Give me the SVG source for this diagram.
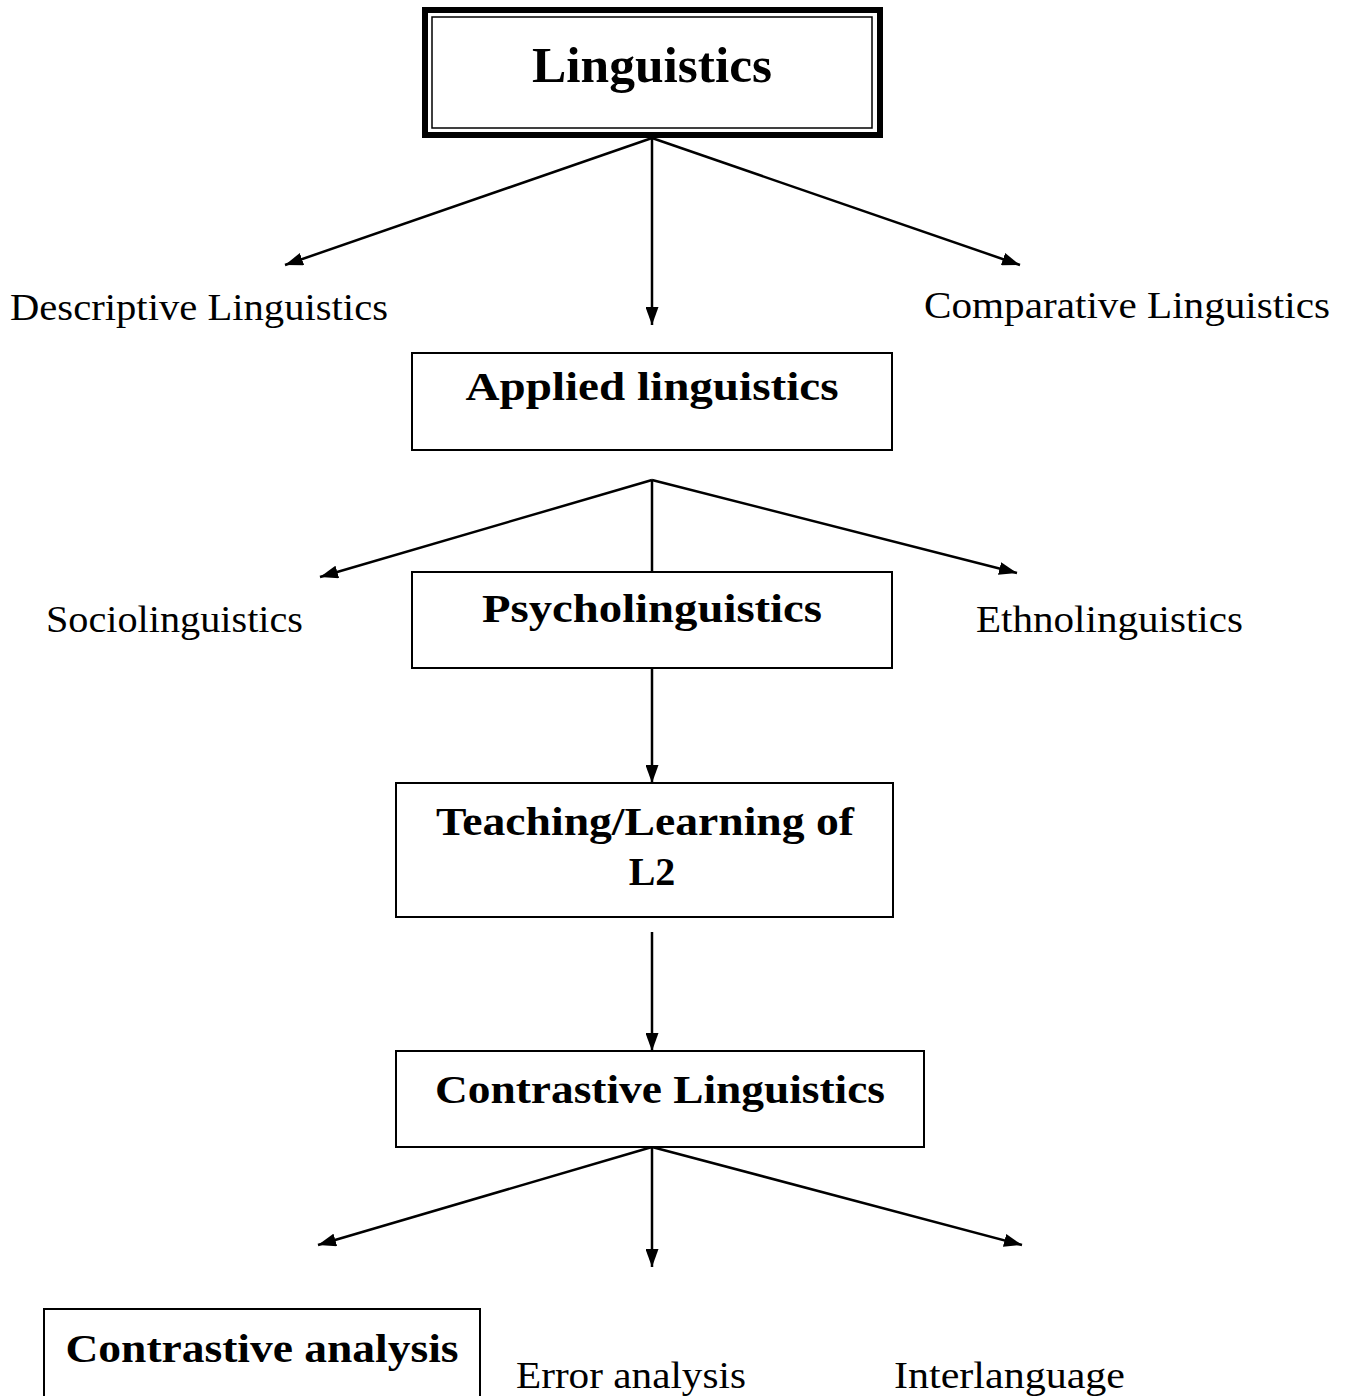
<svg xmlns="http://www.w3.org/2000/svg" width="1351" height="1396" viewBox="0 0 1351 1396">
<style>
.box{fill:#fff;stroke:#000;stroke-width:2}
.b{font-family:"Liberation Serif","DejaVu Serif",serif;font-weight:bold;fill:#000;text-anchor:middle}
.t{font-family:"Liberation Serif","DejaVu Serif",serif;fill:#000}
.c{stroke:#000;stroke-width:2.5;fill:none}
</style>
<defs>
<marker id="a" viewBox="0 0 18 13" refX="18" refY="6.5" markerWidth="18" markerHeight="13" markerUnits="userSpaceOnUse" orient="auto">
<path d="M0,0 L18,6.5 L0,13 z" fill="#000"/>
</marker>
</defs>
<rect width="1351" height="1396" fill="#fff"/>
<g id="connectors">
<line class="c" x1="652" y1="138" x2="285" y2="265" marker-end="url(#a)"/>
<line class="c" x1="652" y1="138" x2="652" y2="325" marker-end="url(#a)"/>
<line class="c" x1="652" y1="138" x2="1020" y2="265" marker-end="url(#a)"/>
<line class="c" x1="652" y1="480" x2="320" y2="577" marker-end="url(#a)"/>
<line class="c" x1="652" y1="480" x2="652" y2="572"/>
<line class="c" x1="652" y1="480" x2="1017" y2="573" marker-end="url(#a)"/>
<line class="c" x1="652" y1="668" x2="652" y2="783" marker-end="url(#a)"/>
<line class="c" x1="652" y1="932" x2="652" y2="1051" marker-end="url(#a)"/>
<line class="c" x1="652" y1="1147" x2="318" y2="1245" marker-end="url(#a)"/>
<line class="c" x1="652" y1="1147" x2="652" y2="1267" marker-end="url(#a)"/>
<line class="c" x1="652" y1="1147" x2="1022" y2="1245" marker-end="url(#a)"/>
</g>
<g id="linguistics">
<rect x="425" y="10" width="455" height="125" fill="#fff" stroke="#000" stroke-width="6"/>
<rect x="432" y="17" width="440" height="111" fill="none" stroke="#000" stroke-width="1.5"/>
<text class="b" x="652" y="82" font-size="50" textLength="240" lengthAdjust="spacingAndGlyphs">Linguistics</text>
</g>
<g id="descriptive">
<text class="t" x="10" y="320" font-size="37" textLength="378" lengthAdjust="spacingAndGlyphs">Descriptive Linguistics</text>
</g>
<g id="comparative">
<text class="t" x="924" y="318" font-size="37" textLength="406" lengthAdjust="spacingAndGlyphs">Comparative Linguistics</text>
</g>
<g id="applied">
<rect class="box" x="412" y="353" width="480" height="97"/>
<text class="b" x="652" y="400" font-size="40" textLength="373" lengthAdjust="spacingAndGlyphs">Applied linguistics</text>
</g>
<g id="socio">
<text class="t" x="46" y="632" font-size="37" textLength="257" lengthAdjust="spacingAndGlyphs">Sociolinguistics</text>
</g>
<g id="psycho">
<rect class="box" x="412" y="572" width="480" height="96"/>
<text class="b" x="652" y="622" font-size="40" textLength="340" lengthAdjust="spacingAndGlyphs">Psycholinguistics</text>
</g>
<g id="ethno">
<text class="t" x="976" y="632" font-size="37" textLength="267" lengthAdjust="spacingAndGlyphs">Ethnolinguistics</text>
</g>
<g id="teaching">
<rect class="box" x="396" y="783" width="497" height="134"/>
<text class="b" x="645" y="835" font-size="40" textLength="418" lengthAdjust="spacingAndGlyphs">Teaching/Learning of</text>
<text class="b" x="652" y="885" font-size="40">L2</text>
</g>
<g id="contrastive-ling">
<rect class="box" x="396" y="1051" width="528" height="96"/>
<text class="b" x="660" y="1103" font-size="40" textLength="450" lengthAdjust="spacingAndGlyphs">Contrastive Linguistics</text>
</g>
<g id="contrastive-analysis">
<rect class="box" x="44" y="1309" width="436" height="100"/>
<text class="b" x="262" y="1362" font-size="40" textLength="393" lengthAdjust="spacingAndGlyphs">Contrastive analysis</text>
</g>
<g id="error">
<text class="t" x="516" y="1388" font-size="37" textLength="230" lengthAdjust="spacingAndGlyphs">Error analysis</text>
</g>
<g id="interlanguage">
<text class="t" x="894" y="1388" font-size="37" textLength="231" lengthAdjust="spacingAndGlyphs">Interlanguage</text>
</g>
</svg>
